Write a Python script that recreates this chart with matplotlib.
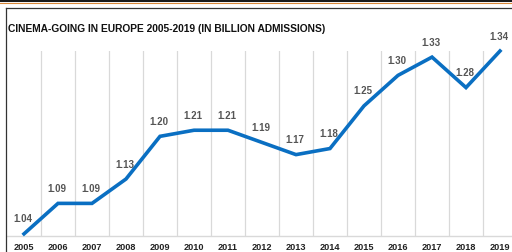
import matplotlib
matplotlib.use("Agg")
import matplotlib.pyplot as plt
from matplotlib.lines import Line2D

years = ["2005", "2006", "2007", "2008", "2009", "2010", "2011", "2012",
         "2013", "2014", "2015", "2016", "2017", "2018", "2019"]
admissions = [1.04, 1.09, 1.09, 1.13, 1.20, 1.21, 1.21, 1.19,
              1.17, 1.18, 1.25, 1.30, 1.33, 1.28, 1.34]
title = "CINEMA-GOING IN EUROPE 2005-2019 (IN BILLION ADMISSIONS)"

fam = ["Liberation Sans Narrow", "Liberation Sans", "DejaVu Sans"]
fam_val = ["Liberation Sans", "DejaVu Sans"]
plt.rcParams['font.family'] = fam

W, H = 512, 253
fig = plt.figure(figsize=(W / 100, H / 100), dpi=100)

# frame decorations
fig.add_artist(Line2D([0, 1], [1 - 1 / H, 1 - 1 / H], color="#1a1a1a", lw=2.2, transform=fig.transFigure))
fig.add_artist(Line2D([0, 1], [1 - 3.5 / H, 1 - 3.5 / H], color="#d9893a", lw=0.8, transform=fig.transFigure))
fig.add_artist(Line2D([5.5 / W, 1], [1 - 8.5 / H, 1 - 8.5 / H], color="#333333", lw=0.9, transform=fig.transFigure))
fig.add_artist(Line2D([5.5 / W, 5.5 / W], [0, 1 - 8.5 / H], color="#333333", lw=0.9, transform=fig.transFigure))

x0, x1 = 7, 517
y0, y1 = 52, 237
ax = fig.add_axes([x0 / W, (H - y1) / H, (x1 - x0) / W, (y1 - y0) / H])

x = list(range(len(years)))
ax.plot(x, admissions, color="#0a6fc2", lw=2.6, solid_joinstyle="miter", zorder=3, clip_on=False)
for xi, v in zip(x, admissions):
    ax.annotate(f"{v:.2f}", (xi, v), xytext=(-1, 7.5), textcoords="offset points",
                ha="center", va="bottom", fontsize=7, color="#555555",
                fontweight="bold", family=fam_val)

ax.set_xlim(-0.5, len(years) - 0.5)
ax.set_ylim(1.0365, 1.34)
ax.set_xticks(x)
ax.set_xticklabels(years, fontsize=6.6, fontweight="bold", color="#222222")
ax.set_xticks([i + 0.5 for i in x], minor=True)
ax.set_yticks([])
ax.tick_params(axis="x", which="major", length=0, pad=4)
ax.tick_params(axis="x", which="minor", length=0)
ax.grid(axis="x", which="minor", color="#d9d9d9", lw=0.9)
ax.grid(axis="x", which="major", visible=False)
for s in ["top", "right", "left"]:
    ax.spines[s].set_visible(False)
ax.spines["bottom"].set_color("#d9d9d9")
ax.spines["bottom"].set_linewidth(1)

fig.text(8 / W, 1 - 28.5 / H, title, fontsize=7.4, fontweight="bold", color="#111111",
         ha="left", va="center", family=fam)

fig.savefig("out.png", dpi=100)
